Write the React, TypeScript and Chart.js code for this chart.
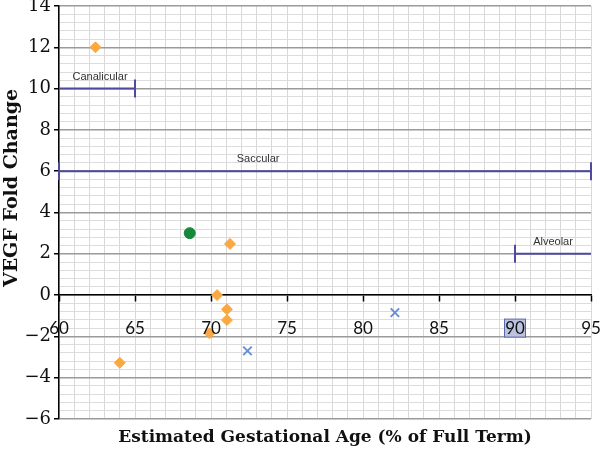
import React, { useEffect, useRef } from 'react';
import { Chart, registerables } from 'chart.js';

Chart.register(...registerables);

// ---- axes ----
const X_MIN = 60;
const X_MAX = 95;
const Y_MIN = -6;
const Y_MAX = 14;
const X_LABEL_STEP = 5;
const Y_LABEL_STEP = 2;
const X_MINOR_STEP = 1;
const Y_MINOR_STEP = 0.4;
const X_HIGHLIGHT_TICK = 90;

const X_TITLE = 'Estimated Gestational Age (% of Full Term)';
const Y_TITLE = 'VEGF Fold Change';

// ---- data series ----
const orangeX = [62.4, 64.0, 71.25, 70.4, 71.05, 71.05, 69.9];
const orangeY = [12, -3.28, 2.48, 0, -0.69, -1.21, -1.85];

const greenX = [68.6];
const greenY = [3.0];

const blueX = [72.4, 82.1];
const blueY = [-2.7, -0.85];

// ---- lung development stages (horizontal ranges) ----
const stageNames = ['Canalicular', 'Saccular', 'Alveolar'];
const stageStart = [60, 60, 90];
const stageEnd = [65, 95, 95];
const stageLevel = [10, 6, 2];
const stageCapStart = [false, true, true];
const stageCapEnd = [true, true, false];
const stageLabelX = [62.7, 73.1, 92.5];

const STAGE_COLOR = '#4f4aa0';

const isMult = (v: number, m: number) => Math.abs(v / m - Math.round(v / m)) < 1e-6;
const fmt = (v: number) => (v < 0 ? '\u2212' + Math.abs(v) : String(v));

export default function App() {
  const ref = useRef<HTMLCanvasElement>(null);

  useEffect(() => {
    if (!ref.current) return;

    const stageDatasets = stageNames.map((name, i) => ({
      type: 'line' as const,
      label: name,
      data: [
        { x: stageStart[i], y: stageLevel[i] },
        { x: stageEnd[i], y: stageLevel[i] },
      ],
      showLine: true,
      borderColor: STAGE_COLOR,
      borderWidth: 2,
      pointStyle: 'line' as const,
      pointRotation: 90,
      pointRadius: [stageCapStart[i] ? 9 : 0, stageCapEnd[i] ? 9 : 0],
      pointBorderColor: STAGE_COLOR,
      pointBorderWidth: 2,
      clip: false as any,
      order: 3,
    }));

    const textPlugin = {
      id: 'texts',
      beforeDatasetsDraw(chart: any) {
        const ctx = chart.ctx;
        const xs = chart.scales.x;
        const ys = chart.scales.y;
        const px = xs.getPixelForValue(X_HIGHLIGHT_TICK);
        const py = ys.getPixelForValue(0) + 33;
        ctx.save();
        ctx.fillStyle = '#bcc3de';
        ctx.strokeStyle = '#5b67a8';
        ctx.lineWidth = 1;
        ctx.fillRect(px - 10.5, py - 9, 21, 18);
        ctx.strokeRect(px - 10.5, py - 9, 21, 18);
        ctx.restore();
      },
      afterDraw(chart: any) {
        const ctx = chart.ctx;
        const xs = chart.scales.x;
        const ys = chart.scales.y;
        const area = chart.chartArea;
        ctx.save();
        // stage labels
        ctx.fillStyle = '#333333';
        ctx.font = '11px "Liberation Sans", Arial, sans-serif';
        ctx.textAlign = 'center';
        ctx.textBaseline = 'alphabetic';
        stageNames.forEach((n, i) => {
          ctx.fillText(n, xs.getPixelForValue(stageLabelX[i]), ys.getPixelForValue(stageLevel[i]) - 9);
        });
        // axis titles
        ctx.fillStyle = '#111111';
        ctx.textBaseline = 'middle';
        ctx.font = 'bold 17px "DejaVu Serif", serif';
        ctx.fillText(X_TITLE, (area.left + area.right) / 2, 438);
        ctx.font = 'bold 19px "DejaVu Serif", serif';
        ctx.translate(12, 188);
        ctx.rotate(-Math.PI / 2);
        ctx.fillText(Y_TITLE, 0, 0);
        ctx.restore();
      },
    };

    const chart = new Chart(ref.current, {
      type: 'scatter',
      data: {
        datasets: [
          ...stageDatasets,
          {
            label: 'orange',
            data: orangeX.map((x, i) => ({ x, y: orangeY[i] })),
            pointStyle: 'rectRot',
            pointRadius: 5.5,
            backgroundColor: '#f9a842',
            borderColor: '#f9a842',
            borderWidth: 1,
            order: 1,
          },
          {
            label: 'green',
            data: greenX.map((x, i) => ({ x, y: greenY[i] })),
            pointStyle: 'circle',
            pointRadius: 5.5,
            backgroundColor: '#17873c',
            borderColor: '#17873c',
            borderWidth: 1,
            order: 1,
          },
          {
            label: 'blue',
            data: blueX.map((x, i) => ({ x, y: blueY[i] })),
            pointStyle: 'crossRot',
            pointRadius: 6,
            backgroundColor: '#6a90d2',
            borderColor: '#6a90d2',
            borderWidth: 2,
            order: 1,
          },
        ] as any,
      },
      options: {
        animation: false,
        responsive: false,
        devicePixelRatio: 1,
        layout: { autoPadding: false, padding: { left: 0, top: 6, right: 9, bottom: 33 } },
        plugins: { legend: { display: false }, tooltip: { enabled: false } },
        scales: {
          x: {
            type: 'linear',
            min: X_MIN,
            max: X_MAX,
            position: { y: 0 } as any,
            afterBuildTicks: (s: any) => {
              const t = [];
              for (let v = X_MIN; v <= X_MAX + 1e-9; v += X_MINOR_STEP) t.push({ value: v });
              s.ticks = t;
            },
            afterFit: (s: any) => {
              s.height = 0;
              s.paddingLeft = 0;
              s.paddingRight = 0;
              s.paddingTop = 0;
              s.paddingBottom = 0;
            },
            grid: {
              color: '#d9d9d9',
              lineWidth: 1,
              drawTicks: true,
              tickLength: 6,
              tickColor: (c: any) => (c.tick && isMult(c.tick.value, X_LABEL_STEP) ? '#000000' : 'rgba(0,0,0,0)'),
              tickWidth: 1.5,
            },
            border: { display: true, color: '#000000', width: 1.5 },
            ticks: {
              autoSkip: false,
              maxRotation: 0,
              padding: 17,
              color: '#111111',
              font: { family: 'Lato, "Open Sans", sans-serif', size: 17 },
              callback: (v: any) => (isMult(Number(v), X_LABEL_STEP) ? String(Math.round(Number(v))) : ''),
              z: 1,
            } as any,
          },
          y: {
            type: 'linear',
            min: Y_MIN,
            max: Y_MAX,
            afterBuildTicks: (s: any) => {
              const t = [];
              const n = Math.round((Y_MAX - Y_MIN) / Y_MINOR_STEP);
              for (let i = 0; i <= n; i++) t.push({ value: Math.round((Y_MIN + i * Y_MINOR_STEP) * 1000) / 1000 });
              s.ticks = t;
            },
            afterFit: (s: any) => {
              s.width = 59;
              s.paddingTop = 0;
              s.paddingBottom = 0;
            },
            grid: {
              color: (c: any) => (c.tick && isMult(c.tick.value, Y_LABEL_STEP) ? '#9a9a9a' : '#dcdcdc'),
              lineWidth: (c: any) => (c.tick && isMult(c.tick.value, Y_LABEL_STEP) ? 1.5 : 1),
              drawTicks: true,
              tickLength: 5,
              tickColor: (c: any) => (c.tick && isMult(c.tick.value, Y_LABEL_STEP) ? '#000000' : 'rgba(0,0,0,0)'),
              tickWidth: 1.5,
            },
            border: { display: true, color: '#000000', width: 1.5 },
            ticks: {
              autoSkip: false,
              padding: 3,
              color: '#111111',
              font: { family: '"DejaVu Serif", serif', size: 18 },
              callback: (v: any) => (isMult(Number(v), Y_LABEL_STEP) ? fmt(Math.round(Number(v))) : ''),
            },
          },
        },
      },
      plugins: [textPlugin],
    });

    return () => chart.destroy();
  }, []);

  return (
    <div style={{ position: 'absolute', left: 0, top: 0, width: 600, height: 452, background: '#ffffff' }}>
      <canvas ref={ref} width={600} height={452} style={{ display: 'block' }} />
    </div>
  );
}
